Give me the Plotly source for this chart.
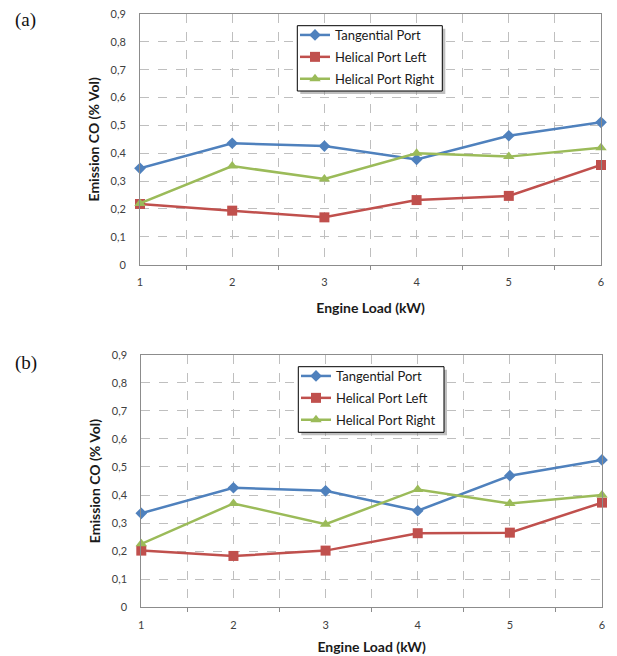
import plotly.graph_objects as go

loads = [1, 2, 3, 4, 5, 6]
# Panel (a)
a_tangential = [0.346, 0.436, 0.426, 0.378, 0.463, 0.511]
a_helical_left = [0.218, 0.194, 0.170, 0.232, 0.247, 0.358]
a_helical_right = [0.220, 0.354, 0.308, 0.400, 0.388, 0.420]
# Panel (b)
b_tangential = [0.335, 0.426, 0.415, 0.344, 0.469, 0.525]
b_helical_left = [0.202, 0.183, 0.202, 0.264, 0.266, 0.373]
b_helical_right = [0.226, 0.370, 0.296, 0.420, 0.370, 0.400]

series_names = ["Tangential Port", "Helical Port Left", "Helical Port Right"]
colors = ["#4F81BD", "#C0504D", "#9BBB59"]
symbols = ["diamond", "square", "triangle-up"]
msizes = [9, 10, 10]

y_ticks = [0, 0.1, 0.2, 0.3, 0.4, 0.5, 0.6, 0.7, 0.8, 0.9]
y_ticktext = ["0", "0,1", "0,2", "0,3", "0,4", "0,5", "0,6", "0,7", "0,8", "0,9"]
x_ticks = [1, 2, 3, 4, 5, 6]
x_minor = [1.5, 2.5, 3.5, 4.5, 5.5]

W, H = 617, 656
fig = go.Figure()

panels = [
    ((a_tangential, a_helical_left, a_helical_right), "x", "y", "legend", "a"),
    ((b_tangential, b_helical_left, b_helical_right), "x2", "y2", "legend2", "b"),
]
for vals3, xa, ya, lg, tag in panels:
    for i, vals in enumerate(vals3):
        fig.add_trace(go.Scatter(
            x=loads, y=vals, name=series_names[i], mode="lines+markers",
            line=dict(color=colors[i], width=2.5),
            marker=dict(symbol=symbols[i], size=msizes[i], color=colors[i]),
            xaxis=xa, yaxis=ya, legend=lg, legendgroup=f"{tag}{i}",
            cliponaxis=False,
        ))

font_family = "Lato, 'Open Sans', sans-serif"
grid_col = "#BFBFBF"
border_col = "#8C8C8C"

def xaxis(domain, anchor, standoff):
    return dict(
        domain=domain, anchor=anchor, range=[1, 6], automargin=False,
        tickmode="array", tickvals=x_ticks, ticks="outside", ticklen=7,
        tickcolor="rgba(0,0,0,0)",
        showgrid=True, gridcolor=grid_col, griddash="dash", gridwidth=1,
        minor=dict(tickmode="array", tickvals=x_minor, ticks="outside", ticklen=4,
                   tickcolor=border_col, showgrid=True, gridcolor=grid_col,
                   griddash="dash"),
        showline=True, linecolor=border_col, linewidth=1, mirror=True,
        zeroline=False,
        tickfont=dict(family=font_family, size=11, color="#404040"),
        title=dict(text="<b>Engine Load (kW)</b>", standoff=standoff,
                   font=dict(family=font_family, size=14, color="#1a1a1a")),
    )

def yaxis(domain, anchor):
    return dict(
        domain=domain, anchor=anchor, range=[0, 0.9], automargin=False,
        tickmode="array", tickvals=y_ticks, ticktext=y_ticktext,
        ticks="outside", ticklen=11, tickcolor="rgba(0,0,0,0)",
        showgrid=True, gridcolor=grid_col, griddash="dash", gridwidth=1,
        showline=True, linecolor=border_col, linewidth=1, mirror=True,
        zeroline=False,
        tickfont=dict(family=font_family, size=11, color="#404040"),
        title=dict(text="<b>Emission CO (% Vol)</b>", standoff=7,
                   font=dict(family=font_family, size=14, color="#1a1a1a")),
    )

leg_common = dict(
    bgcolor="rgba(0,0,0,0)", borderwidth=0,
    font=dict(family=font_family, size=13, color="#1a1a1a"),
    xanchor="left", yanchor="top", xref="paper", yref="paper",
    itemwidth=30, tracegroupgap=2,
)

def legend_box(x0, y0, x1, y1):
    return [
        dict(type="rect", xref="paper", yref="paper",
             x0=(x0 + 3) / W, x1=(x1 + 3) / W, y0=1 - (y1 + 3) / H, y1=1 - (y0 + 3) / H,
             fillcolor="#8a8a8a", line=dict(width=0), layer="above", opacity=0.55),
        dict(type="rect", xref="paper", yref="paper",
             x0=x0 / W, x1=x1 / W, y0=1 - y1 / H, y1=1 - y0 / H,
             fillcolor="white", line=dict(width=1, color="black"), layer="above"),
    ]

fig.update_layout(
    width=W, height=H,
    margin=dict(l=0, r=0, t=0, b=0),
    paper_bgcolor="white", plot_bgcolor="white",
    showlegend=True,
    xaxis=xaxis([140 / W, 601 / W], "y", 16),
    yaxis=yaxis([1 - 264.7 / H, 1 - 14 / H], "x"),
    xaxis2=xaxis([141.3 / W, 602 / W], "y2", 12),
    yaxis2=yaxis([1 - 607.3 / H, 1 - 354.7 / H], "x2"),
    legend=dict(x=295 / W, y=1 - 20 / H, **leg_common),
    legend2=dict(x=296 / W, y=1 - 361 / H, **leg_common),
    annotations=[
        dict(text="(a)", x=13 / W, y=1 - 20 / H, xref="paper", yref="paper",
             xanchor="left", yanchor="middle", showarrow=False,
             font=dict(family="Liberation Serif", size=19, color="#111")),
        dict(text="(b)", x=13 / W, y=1 - 363 / H, xref="paper", yref="paper",
             xanchor="left", yanchor="middle", showarrow=False,
             font=dict(family="Liberation Serif", size=19, color="#111")),
    ],
    shapes=legend_box(297.3, 25.7, 442.3, 91) + legend_box(298.3, 366.7, 444, 432.3),
)

fig.write_html("out.html", post_script="document.body.style.margin='0';",
               config={"displayModeBar": False})
